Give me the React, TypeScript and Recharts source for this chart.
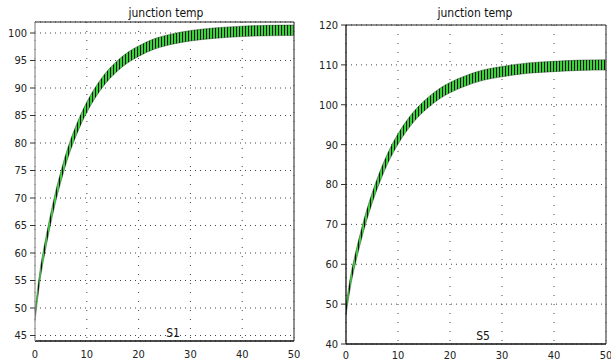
import React from 'react';
import { ComposedChart, Area, XAxis, YAxis, CartesianGrid, ReferenceLine } from 'recharts';

// time axis (s) and read-off junction temperatures
const time = [0, 1, 2, 3, 4, 5, 6, 7, 8, 9, 10, 12, 14, 16, 18, 20, 23, 26, 30, 35, 40, 45, 50];
const s1Temp = [48.5, 56.1, 61.4, 66.1, 70.3, 73.9, 77.2, 80.0, 82.4, 84.6, 86.5, 89.7, 92.2, 94.1, 95.6, 96.7, 98.0, 98.8, 99.5, 100.0, 100.3, 100.45, 100.5];
const s5Temp = [48.5, 56.6, 62.5, 67.7, 72.4, 76.5, 80.2, 83.5, 86.5, 89.1, 91.4, 95.3, 98.4, 100.8, 102.8, 104.3, 106.0, 107.3, 108.3, 109.2, 109.6, 109.9, 110.0];
// ripple half-height
const s1Ripple = 0.95;
const s5Ripple = 1.3;

const xTicks = [0, 10, 20, 30, 40, 50];
const s1Ticks = [45, 50, 55, 60, 65, 70, 75, 80, 85, 90, 95, 100];
const s5Ticks = [40, 50, 60, 70, 80, 90, 100, 110, 120];

const font = '"DejaVu Sans Condensed", Tahoma, "Liberation Sans", sans-serif';

const makeBand = (vals: number[], amp: number) =>
  time.map((t, i) => ({ t, band: [vals[i] - amp, vals[i] + amp] }));

interface PanelProps {
  id: string;
  left: number;
  width: number;
  top: number;
  rightMargin: number;
  yWidth: number;
  xHeight: number;
  xMargin: number;
  domain: [number, number];
  ticks: number[];
  data: any[];
  leftAxisColor: string;
  label: string;
  labelX: number;
  labelY: number;
  titleX: number;
}

const Panel: React.FC<PanelProps> = (p) => {
  const tickStyle = { fontSize: 11, fill: '#222', fontFamily: font };
  return (
    <div style={{ position: 'absolute', left: p.left, top: 0, width: p.width, height: 363 }}>
      <ComposedChart
        width={p.width}
        height={363}
        data={p.data}
        margin={{ top: p.top, right: p.rightMargin, bottom: 0, left: 0 }}
        style={{ overflow: 'visible' }}
      >
        <defs>
          <pattern id={p.id} patternUnits="userSpaceOnUse" width="3" height="10">
            <rect width="3" height="10" fill="#2fcf2f" />
            <rect x="1.9" width="1.1" height="10" fill="#0c120c" />
            <rect x="0.9" width="0.6" height="10" fill="#5be85b" />
          </pattern>
        </defs>
        <CartesianGrid vertical={false} stroke="#444" strokeDasharray="1 4" />
        <CartesianGrid horizontal={false} stroke="#444" strokeDasharray="1 8" />
        <XAxis
          dataKey="t"
          type="number"
          domain={[0, 50]}
          ticks={xTicks}
          height={p.xHeight}
          tickSize={0}
          tickMargin={p.xMargin}
          tick={tickStyle}
          axisLine={{ stroke: '#111', strokeWidth: 1.3 }}
          interval={0}
        />
        <YAxis
          type="number"
          domain={p.domain}
          ticks={p.ticks}
          width={p.yWidth}
          tickSize={5}
          tickMargin={3}
          tick={tickStyle}
          tickLine={{ stroke: '#333' }}
          axisLine={{ stroke: p.leftAxisColor, strokeWidth: 1.3 }}
          interval={0}
          allowDataOverflow
        />
        <ReferenceLine y={p.domain[1]} stroke="#222" strokeWidth={1.2} />
        <ReferenceLine x={50} stroke="#555" strokeWidth={1.3} />
        <Area
          dataKey="band"
          type="monotone"
          stroke="#1a2a1a"
          strokeWidth={0.4}
          fill={`url(#${p.id})`}
          fillOpacity={1}
          isAnimationActive={false}
          dot={false}
          activeDot={false}
        />
      </ComposedChart>
      <div
        style={{
          position: 'absolute', left: p.titleX - 60, width: 120, top: 6, textAlign: 'center',
          fontFamily: font, fontSize: 12, color: '#111', lineHeight: '14px',
        }}
      >
        junction temp
      </div>
      <div
        style={{
          position: 'absolute', left: p.labelX - 20, width: 40, top: p.labelY - 7, textAlign: 'center',
          fontFamily: font, fontSize: 12, color: '#111', lineHeight: '14px',
        }}
      >
        {p.label}
      </div>
    </div>
  );
};

export default function App() {
  return (
    <div style={{ position: 'absolute', left: 0, top: 0, width: 611, height: 363, background: '#fff', overflow: 'hidden' }}>
      <Panel
        id="rip1"
        left={0}
        width={305}
        top={22}
        rightMargin={11}
        yWidth={35}
        xHeight={22}
        xMargin={9}
        domain={[44, 102]}
        ticks={s1Ticks}
        data={makeBand(s1Temp, s1Ripple)}
        leftAxisColor="#999"
        label="S1"
        labelX={173}
        labelY={333}
        titleX={166}
      />
      <Panel
        id="rip5"
        left={305}
        width={306}
        top={25}
        rightMargin={5}
        yWidth={41}
        xHeight={19}
        xMargin={7}
        domain={[40, 120]}
        ticks={s5Ticks}
        data={makeBand(s5Temp, s5Ripple)}
        leftAxisColor="#111"
        label="S5"
        labelX={178}
        labelY={336}
        titleX={170}
      />
    </div>
  );
}
